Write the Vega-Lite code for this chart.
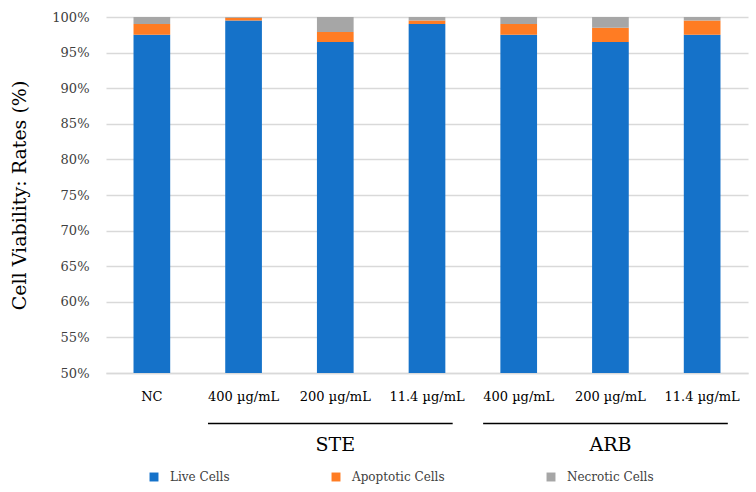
{
  "$schema": "https://vega.github.io/schema/vega-lite/v6.json",
  "width": 642,
  "height": 356,
  "autosize": {"type": "none"},
  "padding": {"left": 106, "top": 17, "right": 8, "bottom": 119},
  "background": "white",
  "config": {
    "view": {"stroke": null},
    "font": "DejaVu Serif",
    "axisY": {
      "titleFont": "DejaVu Serif",
      "titleFontSize": 19,
      "titleFontWeight": "normal",
      "titleColor": "#000000",
      "titlePadding": 22,
      "labelOverlap": false,
      "labelFont": "DejaVu Serif",
      "labelFontSize": 13,
      "labelColor": "#404040",
      "labelPadding": 17,
      "ticks": false,
      "domain": false,
      "grid": true,
      "gridColor": "#d9d9d9",
      "gridWidth": 1.5
    }
  },
  "datasets": {
    "cells": [
      {"cat": "NC", "type": "Live Cells", "value": 97.5},
      {"cat": "NC", "type": "Apoptotic Cells", "value": 1.5},
      {"cat": "NC", "type": "Necrotic Cells", "value": 1.0},
      {"cat": "STE|400 µg/mL", "type": "Live Cells", "value": 99.5},
      {"cat": "STE|400 µg/mL", "type": "Apoptotic Cells", "value": 0.4},
      {"cat": "STE|400 µg/mL", "type": "Necrotic Cells", "value": 0.1},
      {"cat": "STE|200 µg/mL", "type": "Live Cells", "value": 96.5},
      {"cat": "STE|200 µg/mL", "type": "Apoptotic Cells", "value": 1.4},
      {"cat": "STE|200 µg/mL", "type": "Necrotic Cells", "value": 2.1},
      {"cat": "STE|11.4 µg/mL", "type": "Live Cells", "value": 99.0},
      {"cat": "STE|11.4 µg/mL", "type": "Apoptotic Cells", "value": 0.5},
      {"cat": "STE|11.4 µg/mL", "type": "Necrotic Cells", "value": 0.5},
      {"cat": "ARB|400 µg/mL", "type": "Live Cells", "value": 97.5},
      {"cat": "ARB|400 µg/mL", "type": "Apoptotic Cells", "value": 1.5},
      {"cat": "ARB|400 µg/mL", "type": "Necrotic Cells", "value": 1.0},
      {"cat": "ARB|200 µg/mL", "type": "Live Cells", "value": 96.5},
      {"cat": "ARB|200 µg/mL", "type": "Apoptotic Cells", "value": 2.0},
      {"cat": "ARB|200 µg/mL", "type": "Necrotic Cells", "value": 1.5},
      {"cat": "ARB|11.4 µg/mL", "type": "Live Cells", "value": 97.5},
      {"cat": "ARB|11.4 µg/mL", "type": "Apoptotic Cells", "value": 2.0},
      {"cat": "ARB|11.4 µg/mL", "type": "Necrotic Cells", "value": 0.5}
    ],
    "groups": [
      {"group": "STE", "start": "STE|400 µg/mL", "mid": "STE|200 µg/mL", "end": "STE|11.4 µg/mL"},
      {"group": "ARB", "start": "ARB|400 µg/mL", "mid": "ARB|200 µg/mL", "end": "ARB|11.4 µg/mL"}
    ]
  },
  "layer": [
    {
      "data": {"name": "cells"},
      "transform": [
        {"calculate": "indexof(['Live Cells', 'Apoptotic Cells', 'Necrotic Cells'], datum.type)", "as": "stackOrder"}
      ],
      "mark": {"type": "bar", "clip": true},
      "encoding": {
        "x": {
          "field": "cat",
          "type": "nominal",
          "scale": {
            "domain": ["NC", "STE|400 µg/mL", "STE|200 µg/mL", "STE|11.4 µg/mL", "ARB|400 µg/mL", "ARB|200 µg/mL", "ARB|11.4 µg/mL"],
            "paddingInner": 0.6,
            "paddingOuter": 0.3
          },
          "axis": {
            "title": null,
            "labelAngle": 0,
            "labelExpr": "indexof(datum.label, '|') >= 0 ? split(datum.label, '|')[1] : datum.label",
            "labelFont": "DejaVu Serif",
            "labelFontSize": 13,
            "labelColor": "#000000",
            "labelPadding": 17,
            "ticks": false,
            "domain": true,
            "domainColor": "#d9d9d9",
            "domainWidth": 1.5
          }
        },
        "y": {
          "field": "value",
          "type": "quantitative",
          "stack": "zero",
          "scale": {"domain": [50, 100], "nice": false, "zero": false},
          "axis": {
            "title": "Cell Viability: Rates (%)",
            "values": [50, 55, 60, 65, 70, 75, 80, 85, 90, 95, 100],
            "labelExpr": "datum.value + '%'"
          }
        },
        "color": {
          "field": "type",
          "type": "nominal",
          "sort": ["Live Cells", "Apoptotic Cells", "Necrotic Cells"],
          "scale": {
            "domain": ["Live Cells", "Apoptotic Cells", "Necrotic Cells"],
            "range": ["#1572C9", "#FF7C23", "#A6A6A6"]
          },
          "legend": {
            "title": null,
            "orient": "none",
            "direction": "horizontal",
            "legendX": 42,
            "legendY": 454,
            "symbolType": "square",
            "symbolSize": 80,
            "symbolStrokeWidth": 0,
            "labelFont": "DejaVu Serif",
            "labelFontSize": 12,
            "labelColor": "#404040",
            "labelOffset": 10,
            "columnPadding": 100
          }
        },
        "order": {"field": "stackOrder", "type": "quantitative", "sort": "ascending"}
      }
    },
    {
      "data": {"name": "groups"},
      "mark": {"type": "rule", "color": "#000000", "strokeWidth": 1.5},
      "encoding": {
        "x": {"field": "start", "type": "nominal", "bandPosition": -0.47},
        "x2": {"field": "end", "bandPosition": 1.2},
        "y": {
          "datum": 42.9,
          "axis": {
            "title": "Cell Viability: Rates (%)",
            "values": [50, 55, 60, 65, 70, 75, 80, 85, 90, 95, 100],
            "labelExpr": "datum.value + '%'"
          }
        }
      }
    },
    {
      "data": {"name": "groups"},
      "mark": {"type": "text", "font": "DejaVu Serif", "fontSize": 19, "color": "#000000", "baseline": "middle"},
      "encoding": {
        "x": {"field": "mid", "type": "nominal", "bandPosition": 0.5},
        "y": {
          "datum": 39.9,
          "axis": {
            "title": "Cell Viability: Rates (%)",
            "values": [50, 55, 60, 65, 70, 75, 80, 85, 90, 95, 100],
            "labelExpr": "datum.value + '%'"
          }
        },
        "text": {"field": "group"}
      }
    }
  ]
}
